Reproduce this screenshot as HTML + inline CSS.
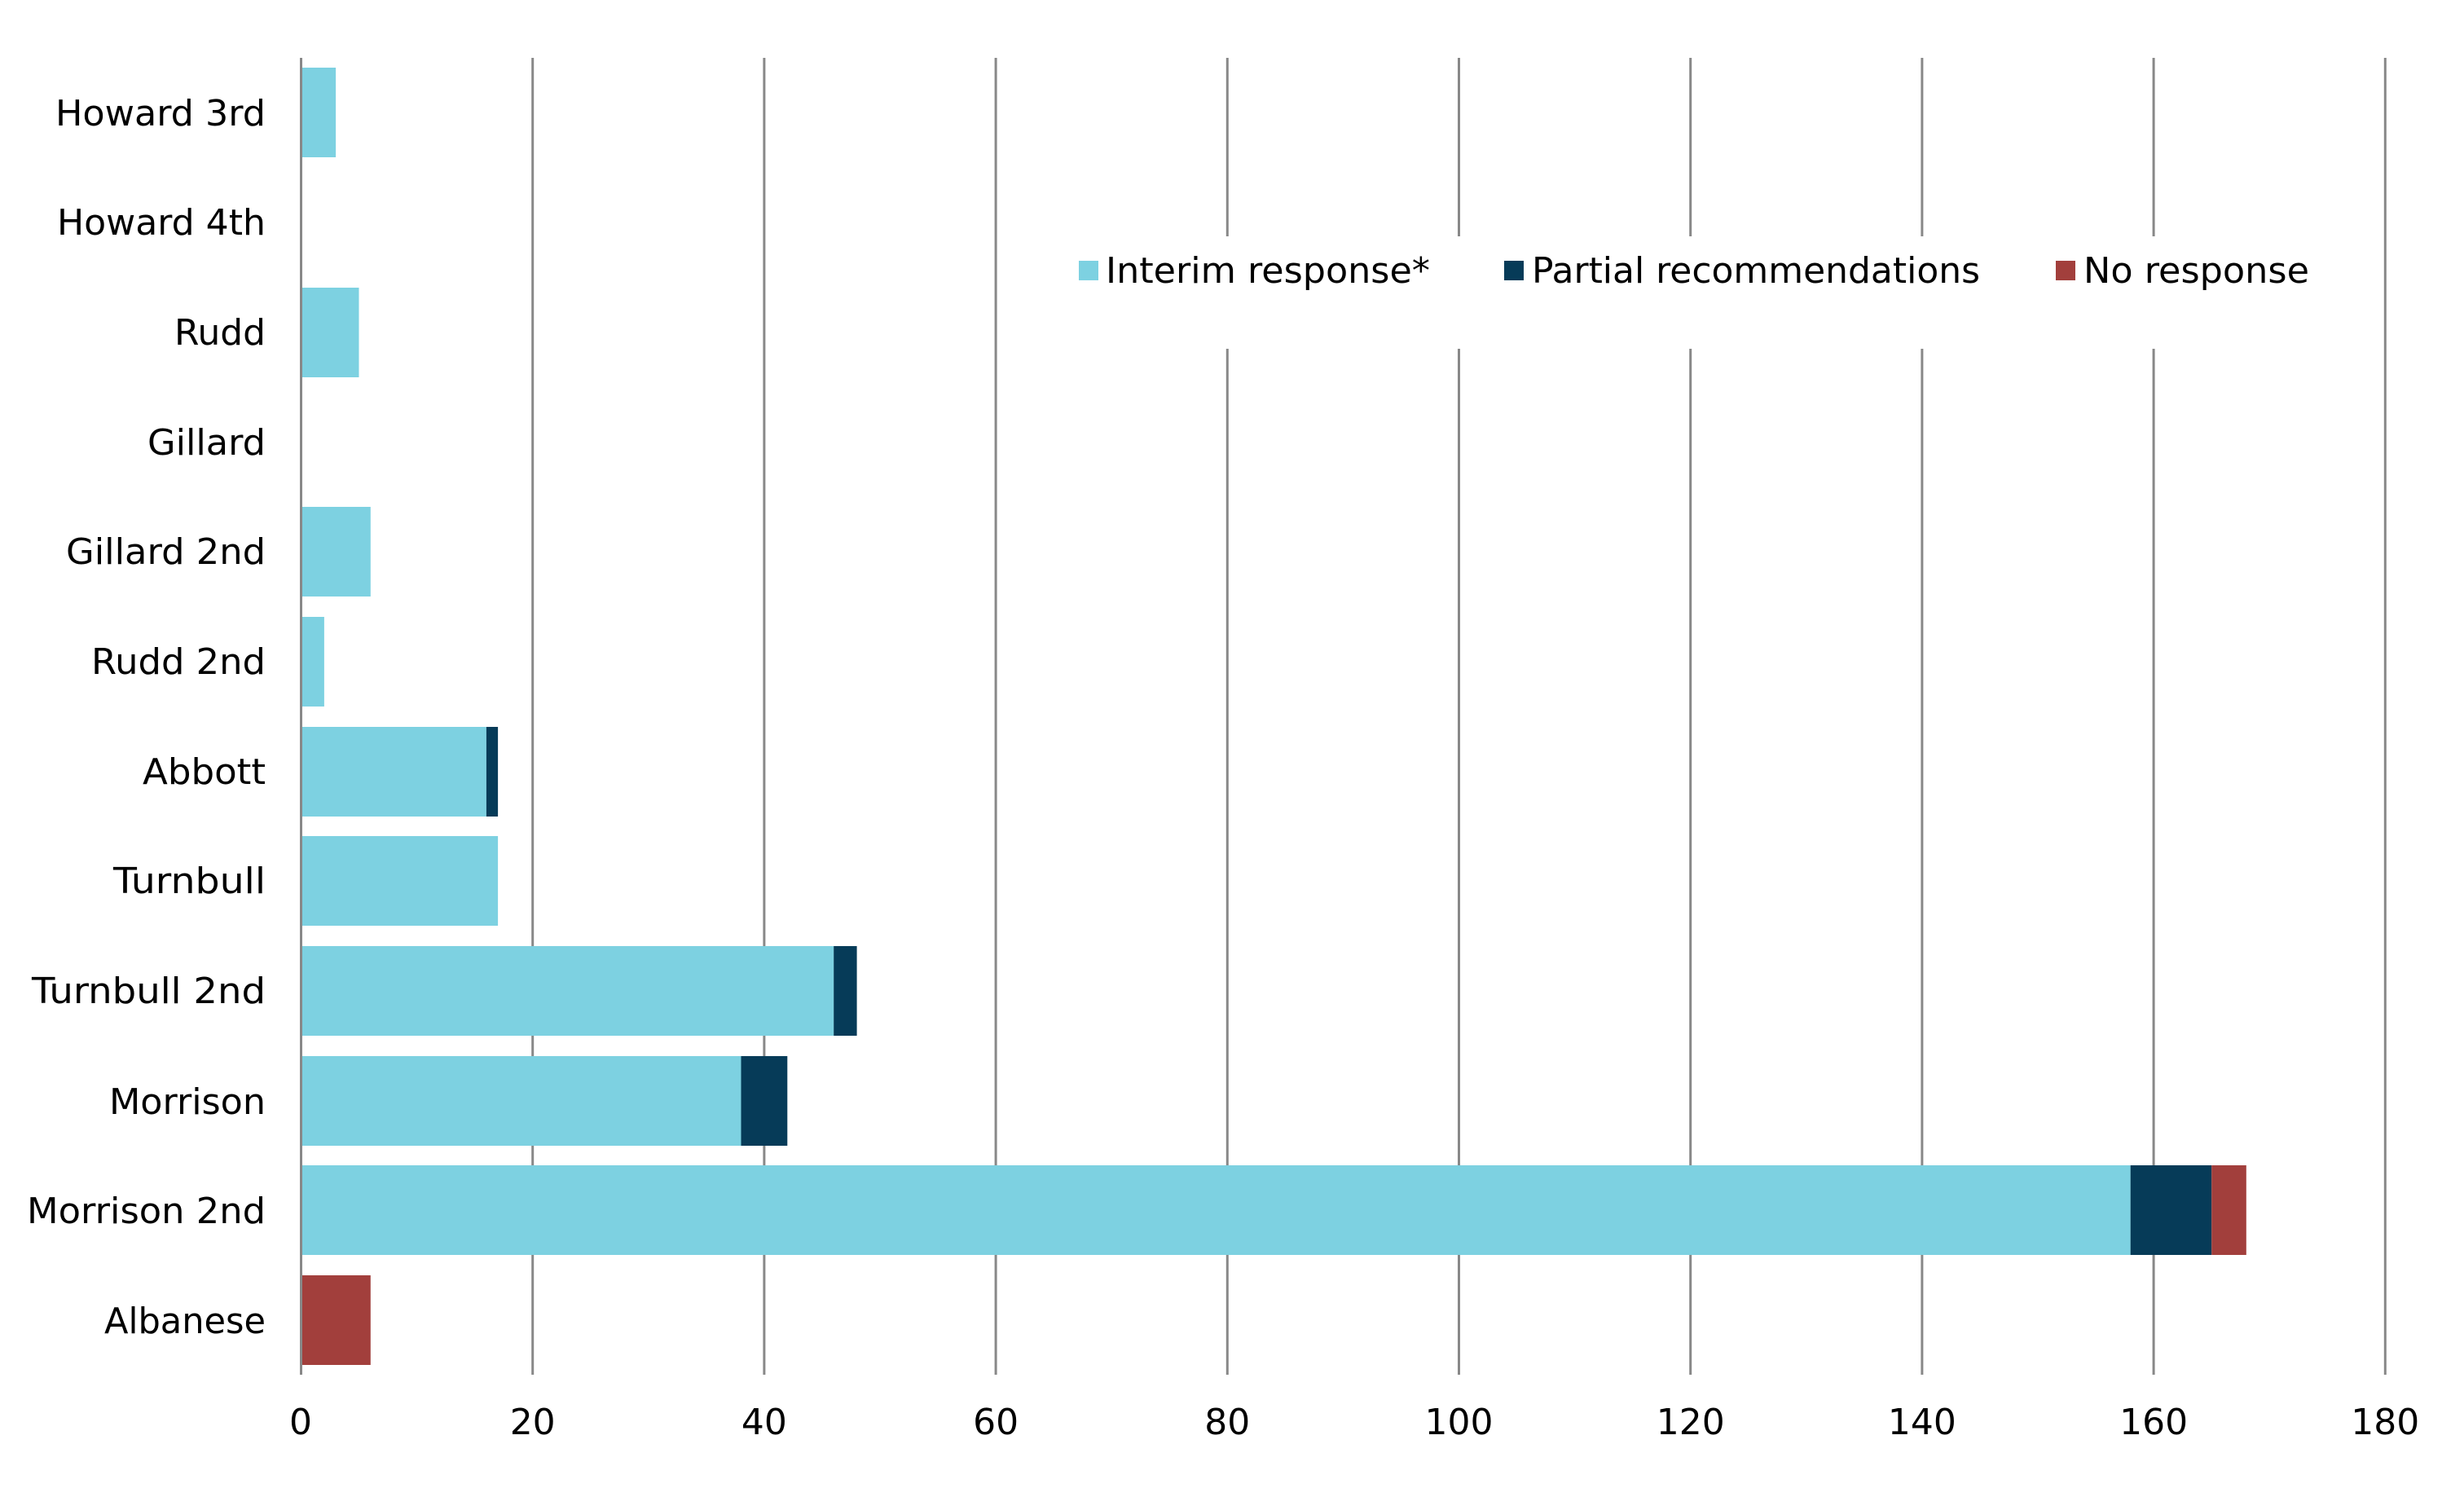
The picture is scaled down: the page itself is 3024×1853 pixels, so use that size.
<!DOCTYPE html>
<html><head><meta charset="utf-8"><style>html,body{margin:0;padding:0;background:#fff}svg{display:block}</style></head>
<body>
<svg width="3024" height="1853" viewBox="0 0 3024 1853" xmlns="http://www.w3.org/2000/svg" font-family="'DejaVu Sans','Liberation Sans',sans-serif" font-size="44" fill="#000">
<g stroke="#888" stroke-width="3">
<line x1="369.5" y1="71" x2="369.5" y2="1687"/>
<line x1="653.7" y1="71" x2="653.7" y2="1687"/>
<line x1="937.9" y1="71" x2="937.9" y2="1687"/>
<line x1="1222.1" y1="71" x2="1222.1" y2="1687"/>
<line x1="1506.3" y1="71" x2="1506.3" y2="1687"/>
<line x1="1790.5" y1="71" x2="1790.5" y2="1687"/>
<line x1="2074.7" y1="71" x2="2074.7" y2="1687"/>
<line x1="2358.9" y1="71" x2="2358.9" y2="1687"/>
<line x1="2643.1" y1="71" x2="2643.1" y2="1687"/>
<line x1="2927.3" y1="71" x2="2927.3" y2="1687"/>
</g>
<rect x="1305" y="290" width="1560" height="138" fill="#fff"/>
<rect x="1324" y="320" width="24" height="24" fill="#7dd1e1"/>
<text x="1357" y="347" textLength="398" lengthAdjust="spacingAndGlyphs">Interim response*</text>
<rect x="1846" y="320" width="24" height="24" fill="#063b58"/>
<text x="1880" y="347" textLength="550" lengthAdjust="spacingAndGlyphs">Partial recommendations</text>
<rect x="2523" y="320" width="24" height="24" fill="#a23f3c"/>
<text x="2557" y="347" textLength="277" lengthAdjust="spacingAndGlyphs">No response</text>
<g>
<rect x="371" y="83" width="41.1" height="110" fill="#7dd1e1"/>
<rect x="371" y="353" width="69.5" height="110" fill="#7dd1e1"/>
<rect x="371" y="622" width="83.8" height="110" fill="#7dd1e1"/>
<rect x="371" y="757" width="26.9" height="110" fill="#7dd1e1"/>
<rect x="371" y="892" width="225.9" height="110" fill="#7dd1e1"/>
<rect x="596.9" y="892" width="14.2" height="110" fill="#063b58"/>
<rect x="371" y="1026" width="240.1" height="110" fill="#7dd1e1"/>
<rect x="371" y="1161" width="652.2" height="110" fill="#7dd1e1"/>
<rect x="1023.2" y="1161" width="28.4" height="110" fill="#063b58"/>
<rect x="371" y="1296" width="538.5" height="110" fill="#7dd1e1"/>
<rect x="909.5" y="1296" width="56.8" height="110" fill="#063b58"/>
<rect x="371" y="1430" width="2243.7" height="110" fill="#7dd1e1"/>
<rect x="2614.7" y="1430" width="99.5" height="110" fill="#063b58"/>
<rect x="2714.2" y="1430" width="42.6" height="110" fill="#a23f3c"/>
<rect x="371" y="1565" width="83.8" height="110" fill="#a23f3c"/>
</g>
<g text-anchor="end">
<text x="326" y="154" textLength="258" lengthAdjust="spacingAndGlyphs">Howard 3rd</text>
<text x="326" y="288" textLength="256" lengthAdjust="spacingAndGlyphs">Howard 4th</text>
<text x="326" y="423" textLength="112" lengthAdjust="spacingAndGlyphs">Rudd</text>
<text x="326" y="558" textLength="145" lengthAdjust="spacingAndGlyphs">Gillard</text>
<text x="326" y="692" textLength="245" lengthAdjust="spacingAndGlyphs">Gillard 2nd</text>
<text x="326" y="827" textLength="214" lengthAdjust="spacingAndGlyphs">Rudd 2nd</text>
<text x="326" y="962" textLength="151" lengthAdjust="spacingAndGlyphs">Abbott</text>
<text x="326" y="1096" textLength="187" lengthAdjust="spacingAndGlyphs">Turnbull</text>
<text x="326" y="1231" textLength="287" lengthAdjust="spacingAndGlyphs">Turnbull 2nd</text>
<text x="326" y="1367" textLength="192" lengthAdjust="spacingAndGlyphs">Morrison</text>
<text x="326" y="1501" textLength="293" lengthAdjust="spacingAndGlyphs">Morrison 2nd</text>
<text x="326" y="1636" textLength="198" lengthAdjust="spacingAndGlyphs">Albanese</text>
</g>
<g text-anchor="middle">
<text x="369" y="1760">0</text>
<text x="653.7" y="1760">20</text>
<text x="937.9" y="1760">40</text>
<text x="1222.1" y="1760">60</text>
<text x="1506.3" y="1760">80</text>
<text x="1790.5" y="1760">100</text>
<text x="2074.7" y="1760">120</text>
<text x="2358.9" y="1760">140</text>
<text x="2643.1" y="1760">160</text>
<text x="2927.3" y="1760">180</text>
</g>
</svg>
</body></html>
